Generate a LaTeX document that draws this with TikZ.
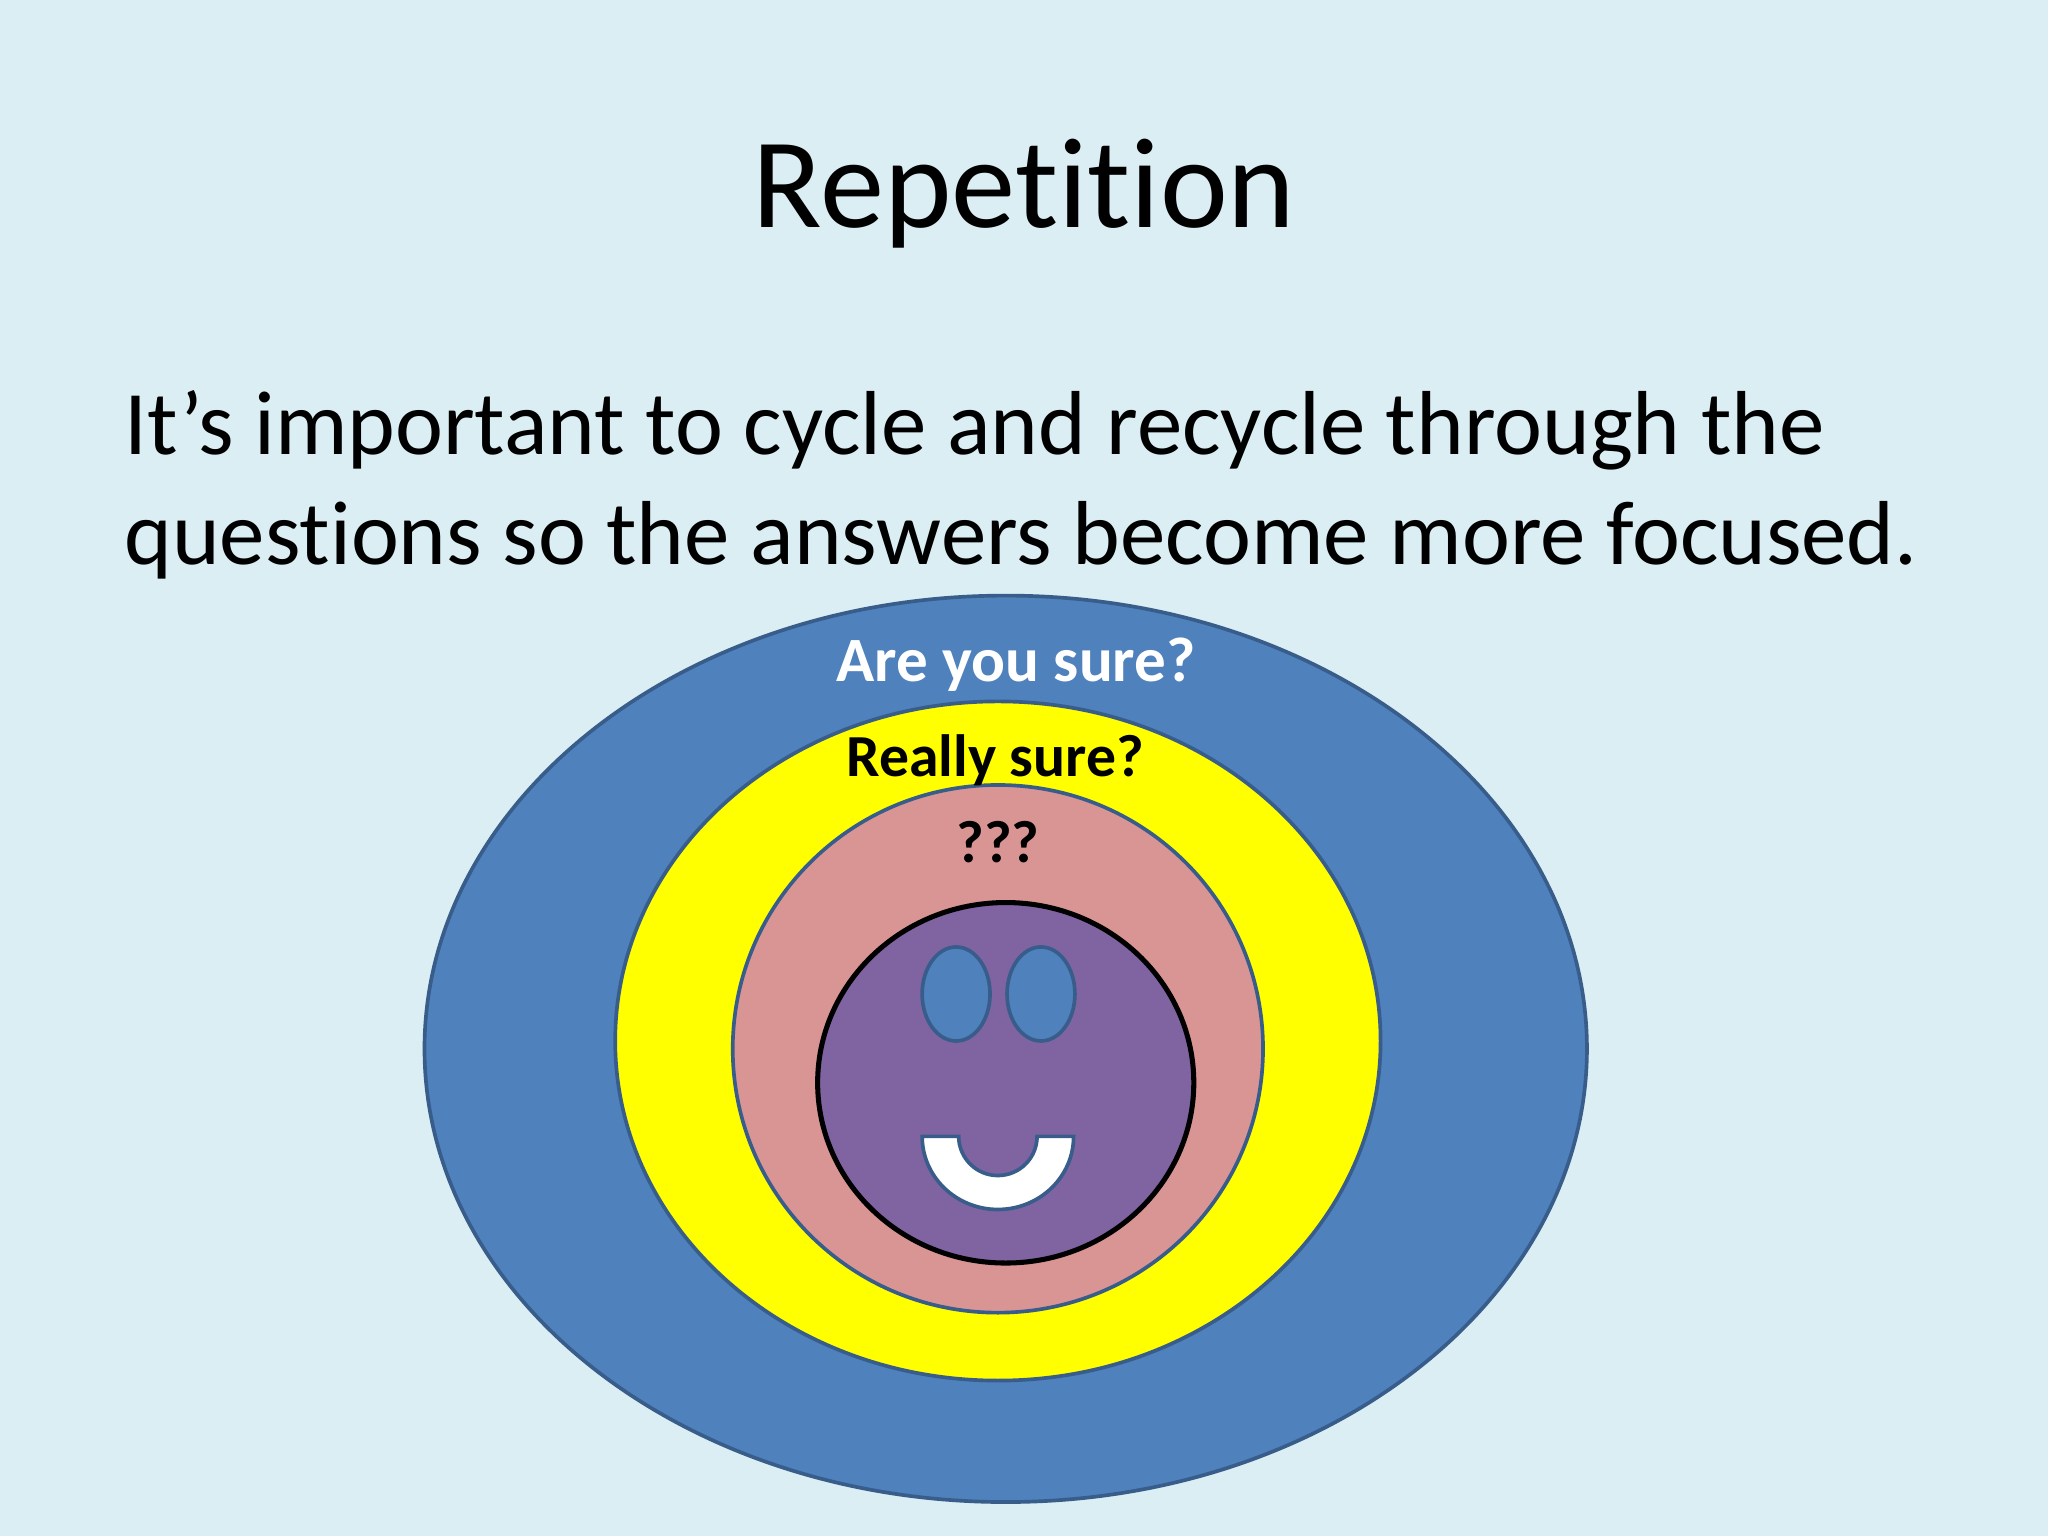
\documentclass[tikz,border=0pt]{standalone}
\usepackage{fontspec}
\setmainfont{Carlito}[Ligatures=NoCommon]
\definecolor{bg}{HTML}{DAEEF3}
\definecolor{blu}{HTML}{4F81BD}
\definecolor{blud}{HTML}{385D8A}
\definecolor{yel}{HTML}{FFFF00}
\definecolor{pnk}{HTML}{D99594}
\definecolor{pur}{HTML}{8064A2}
\begin{document}
\begin{tikzpicture}[x=0.02cm,y=-0.02cm,
  ring/.style={draw=blud,line width=1.6pt},
  lbl/.style={font=\fontsize{26}{30}\selectfont\bfseries,inner sep=0pt}]
\fill[bg] (0,0) rectangle (1568,1176);
\useasboundingbox (0,0) rectangle (1568,1176);
\node[inner sep=0pt,font=\fontsize{56}{68}\selectfont] (title) at (784,148) {Repetition};
\node[inner sep=0pt,anchor=base west,font=\fontsize{39.6}{48}\selectfont] (l1) at (95,348) {It’s important to cycle and recycle through the};
\node[inner sep=0pt,anchor=base west,font=\fontsize{39.6}{48}\selectfont] (l2) at (95,432) {questions so the answers become more focused.};
\draw[ring,fill=blu] (770,803) ellipse [x radius=445,y radius=347];
\draw[ring,fill=yel] (764,797) ellipse [x radius=293,y radius=260];
\draw[ring,fill=pnk] (764,803) ellipse [x radius=203,y radius=202];
\draw[black,line width=2.2pt,fill=pur] (770,829) ellipse [x radius=144,y radius=138];
\draw[ring,fill=blu] (732,761) ellipse [x radius=26,y radius=36];
\draw[ring,fill=blu] (797,761) ellipse [x radius=26,y radius=36];
\draw[ring,fill=white] (706,870) arc[start angle=180,end angle=360,x radius=58,y radius=-56] -- (794,870) arc[start angle=0,end angle=180,x radius=30,y radius=30] -- cycle;
\node[lbl,text=white,font=\fontsize{27.5}{30}\selectfont\bfseries] (a) at (778,509) {Are you sure?};
\node[lbl] (b) at (762,582) {Really sure?};
\node[lbl] (c) at (764,645) {???};
\end{tikzpicture}
\end{document}
